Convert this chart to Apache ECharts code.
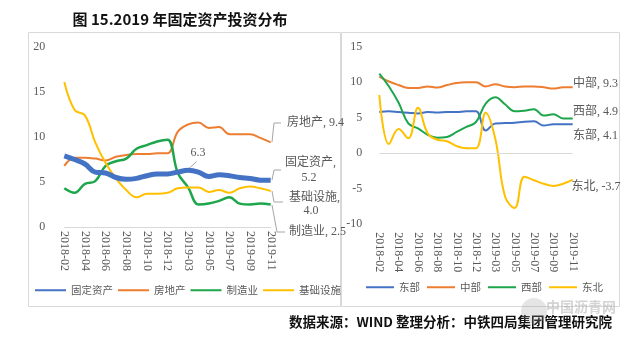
<!DOCTYPE html>
<html><head><meta charset="utf-8">
<script src="https://cdn.jsdelivr.net/npm/echarts@6/dist/echarts.min.js"></script>
<style>html,body{margin:0;padding:0;background:#fff}#c{width:638px;height:345px}</style>
</head><body><div id="c"></div>
<script>
// ---- data ----
const months = ['2018-02','2018-03','2018-04','2018-05','2018-06','2018-07','2018-08','2018-09','2018-10','2018-11','2018-12',
                '2019-02','2019-03','2019-04','2019-05','2019-06','2019-07','2019-08','2019-09','2019-10','2019-11'];
const leftNames = ['固定资产','房地产','制造业','基础设施'];
const fixedAsset     = [7.9,7.5,7.0,6.1,6.0,5.5,5.3,5.4,5.7,5.9,5.9,6.1,6.3,6.1,5.6,5.8,5.7,5.5,5.4,5.2,5.2];
const realEstate     = [6.8,7.7,7.7,7.6,7.4,7.8,8.0,8.1,8.1,8.2,8.2,10.6,11.4,11.6,11.0,11.1,10.3,10.3,10.3,9.9,9.4];
const manufacturing  = [4.3,3.8,4.8,5.1,6.8,7.3,7.6,8.7,9.1,9.5,9.7,6.0,4.4,2.5,2.6,2.9,3.3,2.6,2.5,2.6,2.5];
const infrastructure = [16.1,13.0,12.4,9.4,7.1,5.4,4.1,3.3,3.7,3.7,3.8,4.3,4.4,4.4,3.9,4.1,3.8,4.3,4.5,4.3,4.0];
const rightNames = ['东部','中部','西部','东北'];
const east      = [5.8,5.9,5.8,5.7,5.6,5.8,5.75,5.8,5.8,5.9,5.9,3.2,4.2,4.25,4.3,4.45,4.5,3.9,4.1,4.1,4.1];
const central   = [10.8,10.1,9.6,9.2,9.2,9.4,9.25,9.6,9.9,10.0,10.0,9.4,9.7,9.4,9.3,9.4,9.4,9.3,9.1,9.3,9.3];
const west      = [11.2,9.4,7.1,4.2,3.5,2.6,2.2,2.3,3.0,3.7,4.4,7.0,7.9,6.9,5.9,6.0,6.2,5.3,5.5,4.9,4.9];
const northeast = [8.2,1.3,3.4,2.1,6.4,2.8,1.9,1.7,1.0,0.7,0.7,5.7,2.0,-6.1,-7.7,-3.3,-3.8,-4.3,-4.6,-4.3,-3.7];
const leftTicks = [0,5,10,15,20];
const rightTicks = [-10,-5,0,5,10,15];
const title = '图 15.2019 年固定资产投资分布';
const source = '数据来源：WIND 整理分析：中铁四局集团管理研究院';

// ---- style ----
const SERIF = "'Liberation Serif','Noto Sans CJK SC',serif";
const SANS = "'Noto Sans CJK SC','Liberation Serif',sans-serif";
const GRAY = '#595959';
const C = {blue:'#4472C4', orange:'#ED7D31', green:'#1DA64B', yellow:'#FFC000'};
const axisFont = {fontFamily: SERIF, fontSize: 12, color: GRAY};

const chart = echarts.init(document.getElementById('c'), null, {width:638, height:345});

function line(name, data, color, width, xi, extra) {
  return Object.assign({
    name, type:'line', data, xAxisIndex:xi, yAxisIndex:xi, smooth:0.4, symbol:'none',
    lineStyle:{color, width}, itemStyle:{color}, silent:true
  }, extra || {});
}

const lead = (pts) => ({type:'polyline', silent:true, shape:{points:pts}, style:{stroke:'#A6A6A6', lineWidth:1, fill:null}});
const txt = (x, y, text, align) => ({type:'text', x, y, silent:true,
  style:{text, fill:GRAY, font:"12px " + SERIF, textAlign:align||'left', textVerticalAlign:'middle'}});

const legendBase = {itemHeight:10, padding:0, itemStyle:{opacity:0, borderWidth:0},
  textStyle:{fontFamily:SANS, fontSize:10.5, color:GRAY}};

const option = {
  animation:false,
  backgroundColor:'#fff',
  grid:[
    {left:64.3, right:638-270.7, top:47, height:180},
    {left:379.3, right:638-572.7, top:46.7, height:177.6}
  ],
  xAxis:[
    {gridIndex:0, type:'category', data:months, boundaryGap:false,
     axisLine:{lineStyle:{color:'#D9D9D9'}}, axisTick:{show:false},
     axisLabel:Object.assign({interval:1, rotate:-90, margin:4}, axisFont)},
    {gridIndex:1, type:'category', data:months, boundaryGap:false,
     axisLine:{show:false, onZero:false}, axisTick:{show:false},
     axisLabel:Object.assign({interval:1, rotate:-90, margin:8}, axisFont)}
  ],
  yAxis:[
    {gridIndex:0, type:'value', min:leftTicks[0], max:leftTicks[leftTicks.length-1], interval:5,
     splitLine:{show:false}, axisLine:{show:false}, axisTick:{show:false},
     axisLabel:Object.assign({margin:19}, axisFont)},
    {gridIndex:1, type:'value', min:rightTicks[0], max:rightTicks[rightTicks.length-1], interval:5,
     splitLine:{show:false}, axisLine:{show:false}, axisTick:{show:false},
     axisLabel:Object.assign({margin:17}, axisFont)}
  ],
  legend:[
    Object.assign({data:leftNames, left:34, top:285, itemWidth:31, itemGap:4}, legendBase),
    Object.assign({data:rightNames, left:365, top:282, itemWidth:28, itemGap:6}, legendBase)
  ],
  series:[
    line(leftNames[1], realEstate, C.orange, 2, 0),
    line(leftNames[2], manufacturing, C.green, 2.5, 0),
    line(leftNames[3], infrastructure, C.yellow, 2, 0),
    line(leftNames[0], fixedAsset, C.blue, 5, 0),
    line(rightNames[0], east, C.blue, 2, 1, {markLine:{silent:true, symbol:'none', label:{show:false},
         lineStyle:{color:'#D9D9D9', width:1, type:'solid'}, data:[{yAxis:0}]}}),
    line(rightNames[1], central, C.orange, 2, 1),
    line(rightNames[2], west, C.green, 2, 1),
    line(rightNames[3], northeast, C.yellow, 2, 1)
  ],
  graphic:[
    {type:'rect', silent:true, shape:{x:28.5, y:32.5, width:312, height:274}, style:{fill:null, stroke:'#D9D9D9', lineWidth:1}},
    {type:'rect', silent:true, shape:{x:341.5, y:32.5, width:278, height:274}, style:{fill:null, stroke:'#D9D9D9', lineWidth:1}},
    {type:'text', x:180, y:19, silent:true, style:{text:title, fill:'#111', font:"bold 15px " + SANS, textAlign:'center', textVerticalAlign:'middle'}},
    {type:'text', x:612, y:322, silent:true, style:{text:source, fill:'#111', font:"bold 13.5px " + SANS, textAlign:'right', textVerticalAlign:'middle'}},
    {type:'text', x:616, y:307, silent:true, style:{text:'中国沥青网', fill:'rgba(160,160,160,0.45)', font:"bold 14px " + SANS, textAlign:'right', textVerticalAlign:'middle'}},
    {type:'circle', silent:true, shape:{cx:534, cy:311, r:13}, style:{fill:'rgba(150,150,150,0.25)'}},
    // left annotations
    lead([[272,142],[274,123],[281,123]]), txt(287,123,'房地产, 9.4'),
    lead([[272,180],[274,170],[281,170]]), txt(285,163,'固定资产,'), txt(309,177.5,'5.2','center'),
    lead([[272,191],[274,202],[283,202]]), txt(289,198,'基础设施,'), txt(311,210.5,'4.0','center'),
    lead([[272,205],[277,232],[285,232]]), txt(289,232,'制造业, 2.5'),
    lead([[188.5,169],[196.5,161.5]]), txt(198,153,'6.3','center'),
    // right annotations
    txt(573,83.5,'中部, 9.3'), txt(573,112,'西部, 4.9'), txt(573,136,'东部, 4.1'), txt(571.5,187,'东北, -3.7')
  ]
};
chart.setOption(option);
</script></body></html>
